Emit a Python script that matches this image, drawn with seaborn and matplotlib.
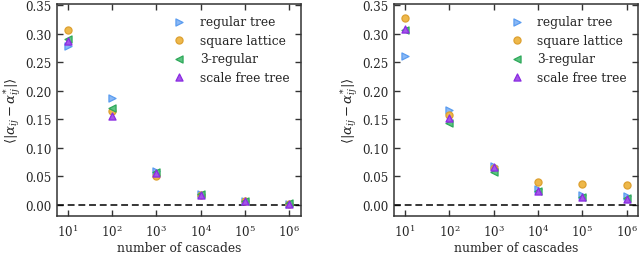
import numpy as np
import pandas as pd
import seaborn as sns
import matplotlib
matplotlib.use("Agg")
import matplotlib.pyplot as plt
from matplotlib.ticker import LogLocator, NullLocator

cascades = [1e1, 1e2, 1e3, 1e4, 1e5, 1e6]
series_names = ["regular tree", "square lattice", "3-regular", "scale free tree"]

left_regular_tree = [0.279, 0.188, 0.060, 0.019, 0.007, 0.002]
left_square_lattice = [0.306, 0.165, 0.051, 0.018, 0.006, 0.002]
left_three_regular = [0.290, 0.169, 0.057, 0.019, 0.007, 0.003]
left_scale_free = [0.288, 0.155, 0.056, 0.018, 0.006, 0.002]

right_regular_tree = [0.261, 0.166, 0.068, 0.028, 0.017, 0.015]
right_square_lattice = [0.327, 0.157, 0.065, 0.040, 0.036, 0.035]
right_three_regular = [0.306, 0.144, 0.058, 0.025, 0.014, 0.012]
right_scale_free = [0.309, 0.153, 0.067, 0.024, 0.014, 0.011]

markers = [">", "o", "<", "^"]
face_colors = ["#8ab8f5", "#eeb84a", "#5cc482", "#a455e8"]
edge_colors = ["#5a9cf0", "#dda030", "#2ea85a", "#8a2be2"]

sns.set_style("ticks")
plt.rcParams["font.family"] = ["DejaVu Serif"]
plt.rcParams["mathtext.fontset"] = "dejavuserif"

fig = plt.figure(figsize=(6.4, 2.55), dpi=100)
ax1 = fig.add_axes([0.0886, 0.148, 0.3814, 0.832])
ax2 = fig.add_axes([0.6156, 0.148, 0.3814, 0.832])

panels = [
    (ax1, [left_regular_tree, left_square_lattice, left_three_regular, left_scale_free]),
    (ax2, [right_regular_tree, right_square_lattice, right_three_regular, right_scale_free]),
]

for ax, data in panels:
    ax.axhline(0.0, color="black", ls="--", lw=1.1, zorder=1, dashes=(4.5, 2.5))
    for name, vals, m, fc, ec in zip(series_names, data, markers, face_colors, edge_colors):
        df = pd.DataFrame({"n": cascades, "v": vals})
        sns.scatterplot(data=df, x="n", y="v", ax=ax, marker=m, s=26,
                        color=fc, edgecolor=ec, linewidth=0.9, label=name, zorder=3)
    ax.set_xscale("log")
    ax.set_xlim(10**0.75, 10**6.26)
    ax.set_ylim(-0.02, 0.352)
    ax.set_yticks(np.arange(0, 0.351, 0.05))
    ax.set_yticklabels([f"{t:.2f}" for t in np.arange(0, 0.351, 0.05)])
    ax.xaxis.set_major_locator(LogLocator(base=10, numticks=10))
    ax.xaxis.set_minor_locator(NullLocator())
    ax.tick_params(direction="in", top=True, right=True, length=4, width=1,
                   color="#333333", labelsize=8.6, pad=5)
    ax.tick_params(axis="y", pad=4)
    for sp in ax.spines.values():
        sp.set_color("#333333")
        sp.set_linewidth(1.1)
    ax.set_xlabel("number of cascades", fontsize=8.8, labelpad=1.5)
    ax.set_ylabel(r"$\langle|\alpha_{ij}-\alpha^{*}_{ij}|\rangle$", fontsize=9.5)
    ax.yaxis.set_label_coords(-0.14, 0.5)
    ax.legend(loc="upper right", frameon=False, fontsize=8.8, handletextpad=1.2,
              labelspacing=0.45, borderaxespad=0.5, handlelength=1.0)

fig.savefig("out.png", dpi=100)
